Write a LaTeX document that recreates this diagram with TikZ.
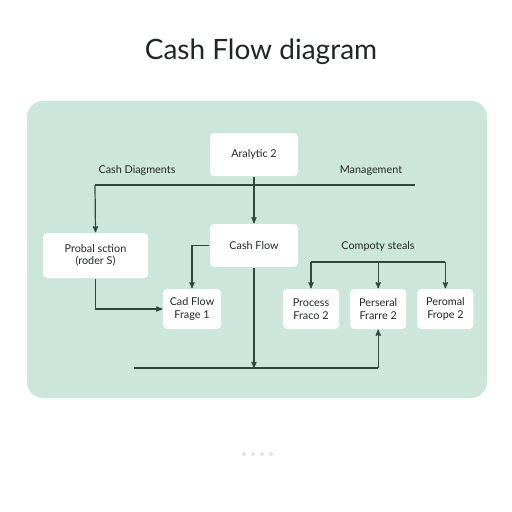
\documentclass[tikz,border=0pt]{standalone}
\usepackage{fontspec}
\setmainfont{Lato}
\usetikzlibrary{arrows}
\usetikzlibrary{positioning}

\definecolor{panel}{RGB}{204,230,219}
\definecolor{wire}{RGB}{46,72,62}
\definecolor{ink}{RGB}{34,38,36}

\begin{document}
\begin{tikzpicture}[->,>=stealth',x=1pt,y=-1pt,
  font=\fontsize{10.8}{12.5}\selectfont,text=ink]

  \tikzstyle{box}=[rectangle,fill=white,rounded corners=.8ex,inner sep=0pt,align=center];
  \tikzstyle{label}=[inner sep=0pt];
  \tikzstyle{every path}=[draw=wire,line width=1.2pt]

  \useasboundingbox[fill=white,draw=none] (0,0) rectangle (512,512);
  \fill[panel,draw=none,rounded corners=16pt] (27,101) rectangle (487,398);

  \node[label,font=\fontsize{28}{32}\selectfont] (title) at (261,52) {Cash Flow diagram};

  \node[box,minimum width=88pt,minimum height=43pt] (ana) at (254,154.5) {Aralytic 2};
  \node[box,minimum width=88pt,minimum height=43pt] (cf)  at (254,245.5) {Cash Flow};
  \node[box,minimum width=105pt,minimum height=45pt] (pa) at (95.5,255.5) {Probal sction\\(roder S)};
  \node[box,minimum width=58pt,minimum height=40pt] (cad) at (192,309) {Cad Flow\\Frage 1};
  \node[box,minimum width=56pt,minimum height=40pt] (pr)  at (311,309) {Process\\Fraco 2};
  \node[box,minimum width=56pt,minimum height=40pt] (pf)  [right=10pt of pr] {Perseral\\Frarre 2};
  \node[box,minimum width=56pt,minimum height=40pt] (pm)  [right=10pt of pf] {Peromal\\Frope 2};

  \node[label] (cdiag) at (137,171) {Cash Diagments};
  \node[label] (mgmt)  at (371,171) {Management};
  \node[label] (steal) at (378,246) {Compoty steals};

  \coordinate (hl) at (95,185);
  \coordinate (hr) at (415,185);
  \coordinate (bt) at (378,262);
  \coordinate (bl) at (134,368);
  \coordinate (br) at (pf.south |- bl);

  \path[-] (hl) -- (hr);
  \path (hl) -- (pa.north);
  \path (ana.south) -- (cf.north);
  \path (cf.west) -| (cad.north);
  \path (pa.south) |- (cad.west);
  \path (cf.south) -- (cf.south |- bl);
  \path[-] (bl) -- (br);
  \path (br) -- (pf.south);
  \path[-] (pr.north |- bt) -- (pm.north |- bt);
  \path (pr.north |- bt) -- (pr.north);
  \path (pf.north |- bt) -- (pf.north);
  \path (pm.north |- bt) -- (pm.north);

  \foreach \i in {0,1,2,3}
    \fill[gray!20,draw=none] (244+9*\i,454) circle (2pt);

\end{tikzpicture}
\end{document}
